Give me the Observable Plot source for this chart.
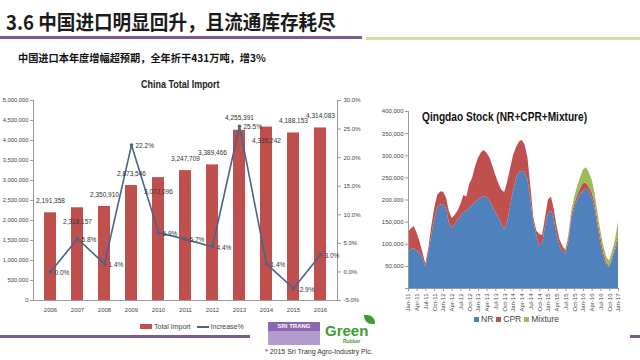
<!DOCTYPE html>
<html><head><meta charset="utf-8">
<script src="https://cdn.jsdelivr.net/npm/d3@7"></script>
<script src="https://cdn.jsdelivr.net/npm/@observablehq/plot@0.6"></script>
<style>
body{margin:0;background:#fff;}
#slide{position:relative;width:640px;height:360px;overflow:hidden;background:#fff;font-family:"Liberation Sans",sans-serif;color:#333;}
.abs{position:absolute;white-space:nowrap;}
#title{left:6px;top:10px;font:bold 20px/24px "Noto Sans CJK SC",sans-serif;color:#1a1a1a;transform:scaleX(0.93);transform-origin:left top;}
#sub{left:18px;top:51px;font:bold 10.2px/14px "Noto Sans CJK SC",sans-serif;color:#111;}
#ltitle{left:141px;top:77px;font:bold 11.5px/14px "Liberation Sans",sans-serif;color:#222;transform:scaleX(0.78);transform-origin:left top;}
#rtitle{left:422px;top:109px;font:bold 13px/15px "Liberation Sans",sans-serif;color:#111;transform:scaleX(0.78);transform-origin:left top;}
#left{left:0;top:90px;}
#right{left:370px;top:95px;}
.leg{font-size:7px;line-height:9px;color:#444;display:flex;align-items:center;}
.sw{display:inline-block;margin-right:2px;}
</style></head><body>
<div id="slide">
  <div class="abs" id="title">3.6 中国进口明显回升，且流通库存耗尽</div>
  <div class="abs" style="left:0;top:36px;width:362px;height:3px;background:#7b5a8e"></div>
  <div class="abs" style="left:366px;top:37px;width:274px;height:3px;background:#d3df9e"></div>
  <div class="abs" id="sub">中国进口本年度增幅超预期，全年折干431万吨，增3%</div>
  <div class="abs" id="ltitle">China Total Import</div>
  <div class="abs" id="left"></div>
  <div class="abs" id="right"></div>
  <div class="abs" id="rtitle">Qingdao Stock (NR+CPR+Mixture)</div>
  <div class="abs leg" id="lleg" style="left:140px;top:322px;"></div>
  <div class="abs leg" id="rleg" style="left:474px;top:315px;font-size:8.5px;"></div>
  <div class="abs" style="left:0;top:335px;width:250px;height:3px;background:#7b5a8e"></div>
  <div class="abs" style="left:630px;top:335px;width:10px;height:3px;background:#7b5a8e"></div>
  <div class="abs" style="left:268px;top:322px;width:52px;height:23px;background:#b49bd0"></div>
  <div class="abs" style="left:268px;top:322px;width:52px;height:9px;background:#8a67b0;color:#fff;font:bold 6px/9px 'Liberation Sans',sans-serif;text-align:center">SRI TRANG</div>
  <div class="abs" style="left:325px;top:323px;font:bold 15px/16px 'Liberation Sans',sans-serif;color:#3f9a35">Green</div>
  <div class="abs" style="left:343px;top:338px;font:bold 5px/6px 'Liberation Sans',sans-serif;color:#3f9a35">Rubber</div>
  <div class="abs" style="left:364px;top:315px;width:11px;height:9px;background:#3f9a35;border-radius:0 8px 0 8px"></div>
  <div class="abs" style="left:265px;top:347px;font:7px/9px 'Liberation Sans',sans-serif;color:#333">* 2015 Sri Trang Agro-Industry Plc.</div>
</div>
<script>
// ---- China Total Import (left chart) ----
const years = ["2006","2007","2008","2009","2010","2011","2012","2013","2014","2015","2016"];
const totalImport = [2191358, 2318157, 2350910, 2873546, 3072096, 3247709, 3389466, 4255391, 4335242, 4188153, 4314083];
const increasePct = [0.0, 5.8, 1.4, 22.2, 6.9, 5.7, 4.4, 25.5, 1.4, -2.9, 3.0];
const importTicks = [0, 500000, 1000000, 1500000, 2000000, 2500000, 3000000, 3500000, 4000000, 4500000, 5000000];
const pctTicks = [-5, 0, 5, 10, 15, 20, 25, 30];
const labelBelowYears = ["2007", "2010", "2014"];

// ---- Qingdao Stock (right chart), monthly Jan-11 .. Jan-17, tonnes ----
const stockSeries = ["NR", "CPR", "Mixture"];
const nrStock = [82000,88000,90000,85000,80000,68000,48000,80000,120000,155000,180000,188000,
  190000,180000,150000,136000,143000,155000,162000,172000,175000,182000,188000,195000,
  200000,205000,208000,206000,198000,185000,172000,160000,145000,132000,150000,185000,
  220000,248000,262000,265000,262000,245000,200000,150000,120000,98000,100000,140000,
  170000,175000,160000,120000,95000,82000,78000,105000,155000,180000,200000,212000,
  220000,225000,220000,205000,180000,140000,100000,70000,52000,48000,65000,85000,
  110000];
const cprStock = [45000,47000,50000,40000,25000,12000,7000,10000,20000,25000,30000,30000,
  28000,25000,25000,22000,22000,20000,28000,38000,32000,53000,62000,80000,
  95000,102000,104000,99000,97000,90000,83000,77000,77000,85000,90000,85000,
  80000,70000,68000,70000,63000,50000,30000,10000,10000,24000,20000,20000,
  30000,32000,20000,20000,15000,13000,6000,9000,10000,10000,10000,13000,
  18000,13000,9000,12000,13000,12000,15000,11000,5000,2000,6000,7000,
  10000];
const mixStock = [0,0,0,0,0,0,0,0,0,0,0,0,
  0,0,0,0,0,0,0,0,0,0,0,0,
  0,0,0,0,0,0,0,0,0,0,0,0,
  0,0,0,0,0,0,0,0,0,0,0,0,
  0,0,0,0,0,0,4000,6000,10000,15000,20000,25000,
  30000,35000,33000,28000,22000,18000,15000,14000,13000,12000,14000,18000,
  30000];
const stockTicks = [0, 50000, 100000, 150000, 200000, 250000, 300000, 350000, 400000];
const stockColors = ["#4f81bd", "#c0504d", "#9bbb59"];

const fmt = d3.format(",");
const pctMin = -5, pctMax = 30, yMax = 5000000;
const pctToY = p => (p - pctMin) / (pctMax - pctMin) * yMax;
const yToPct = v => v / yMax * (pctMax - pctMin) + pctMin;

const importRows = years.map((year, i) => ({year, total: totalImport[i], pct: increasePct[i]}));
const lineColor = "#48648a";
const barColor = "#c0504d";
const chartFont = '"Liberation Sans",sans-serif';

const left = Plot.plot({
  width: 370, height: 235,
  marginLeft: 33, marginRight: 33, marginTop: 10, marginBottom: 25,
  style: {fontFamily: chartFont, fontSize: "6px", color: "#444", background: "transparent", overflow: "visible"},
  x: {type: "band", domain: years, paddingInner: 0.55, paddingOuter: 0.225},
  y: {domain: [0, yMax]},
  marks: [
    Plot.barY(importRows, {x: "year", y: "total", fill: barColor}),
    Plot.ruleY([0], {stroke: "#999"}),
    Plot.frame({anchor: "left", stroke: "#999"}),
    Plot.frame({anchor: "right", stroke: "#999"}),
    Plot.axisY({ticks: importTicks, tickFormat: d => fmt(d), tickSize: 3, tickPadding: 2, label: null, stroke: "#999", fontSize: 5.8}),
    Plot.axisY({anchor: "right", ticks: pctTicks.map(pctToY), tickFormat: d => yToPct(d).toFixed(1) + "%", tickSize: 3, tickPadding: 3, label: null, stroke: "#999", fontSize: 6}),
    Plot.axisX({tickSize: 0, tickPadding: 7, label: null, fontSize: 6}),
    Plot.line(importRows, {x: "year", y: d => pctToY(d.pct), stroke: lineColor, strokeWidth: 1.6}),
    Plot.dot(importRows, {x: "year", y: d => pctToY(d.pct), r: 1.8, fill: lineColor}),
    Plot.text(importRows, {filter: d => !labelBelowYears.includes(d.year), x: "year", y: "total", text: d => fmt(d.total), dy: -12, fill: "#333", fontSize: 6.5}),
    Plot.text(importRows, {filter: d => labelBelowYears.includes(d.year), x: "year", y: "total", text: d => fmt(d.total), dy: 14, fill: "#333", fontSize: 6.5}),
    Plot.text(importRows, {x: "year", y: d => pctToY(d.pct), text: d => d.pct.toFixed(1) + "%", dx: 4, dy: 1, textAnchor: "start", fill: "#333", fontSize: 6.5,
      fontWeight: d => d.year === "2016" ? "bold" : "normal"})
  ]
});
document.getElementById("left").appendChild(left);

const months = d3.utcMonth.range(new Date(Date.UTC(2011, 0, 1)), new Date(Date.UTC(2017, 1, 1)));
const stockRows = [];
months.forEach((date, i) => {
  stockRows.push({date, series: "NR", value: nrStock[i]});
  stockRows.push({date, series: "CPR", value: cprStock[i]});
  stockRows.push({date, series: "Mixture", value: mixStock[i]});
});
const quarterDates = months.filter(d => d.getUTCMonth() % 3 === 0);

const right = Plot.plot({
  width: 270, height: 230,
  marginLeft: 38, marginRight: 22, marginTop: 16, marginBottom: 37,
  style: {fontFamily: chartFont, fontSize: "6px", color: "#444", background: "transparent", overflow: "visible"},
  x: {type: "utc", domain: [months[0], months[months.length - 1]]},
  y: {domain: [0, 400000]},
  color: {domain: stockSeries, range: stockColors},
  marks: [
    Plot.areaY(stockRows, {x: "date", y: "value", fill: "series", order: stockSeries}),
    Plot.ruleY([0], {stroke: "#999"}),
    Plot.frame({anchor: "left", stroke: "#999"}),
    Plot.axisY({ticks: stockTicks, tickFormat: d => d === 0 ? "" : fmt(d), tickSize: 3, tickPadding: 2, label: null, stroke: "#999", fontSize: 6}),
    Plot.axisX({ticks: quarterDates, tickFormat: d3.utcFormat("%b-%y"), tickRotate: -90, tickSize: 3, tickPadding: 2, label: null, stroke: "#999", fontSize: 6})
  ]
});
document.getElementById("right").appendChild(right);

// legends
const lleg = document.getElementById("lleg");
lleg.innerHTML = `<span class="sw" style="width:12px;height:5px;background:${barColor}"></span><span>Total Import</span>` +
  `<span class="sw" style="width:12px;height:2px;background:${lineColor};margin-left:6px"></span><span>Increase%</span>`;
const rleg = document.getElementById("rleg");
rleg.innerHTML = stockSeries.map((s, i) => `<span class="sw" style="width:5px;height:5px;background:${stockColors[i]}"></span><span style="margin-right:3px">${s}</span>`).join("");
</script>
</body></html>
